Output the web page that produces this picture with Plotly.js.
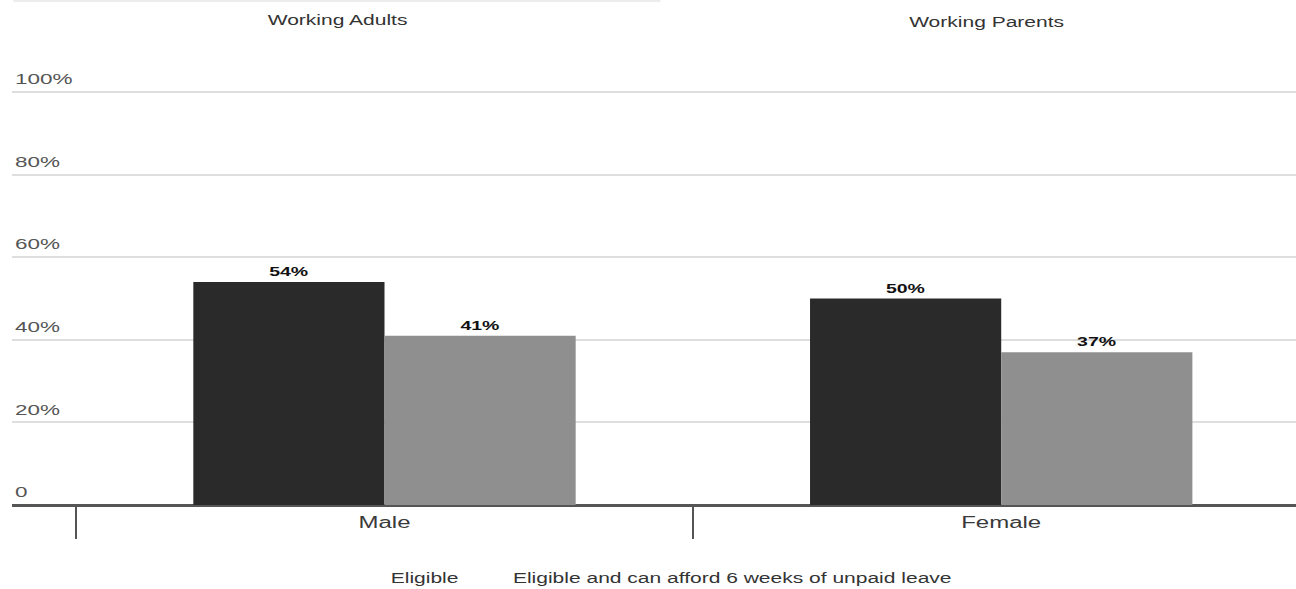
<!DOCTYPE html>
<html>
<head>
<meta charset="utf-8">
<script src="https://cdn.plot.ly/plotly-3.0.1.min.js"></script>
<style>html,body{margin:0;padding:0;background:#fff;}#chart{width:1296px;height:589px;}</style>
</head>
<body>
<div id="chart"></div>
<script>
const categories = ["Male", "Female"];
const seriesNames = ["Eligible", "Eligible and can afford 6 weeks of unpaid leave"];
const eligible = [54, 50];
const canAfford = [41, 37];
const yTickVals = [0, 20, 40, 60, 80, 100];
const yTickText = ["0", "20%", "40%", "60%", "80%", "100%"];
const tabs = ["Working Adults", "Working Parents"];

const FONT = "Liberation Sans, Arial, sans-serif";
const STRETCH = 1.5;

const traces = [
  {type: "bar", name: seriesNames[0], x: categories, y: eligible,
   text: eligible.map(v => v + "%"), textposition: "outside", cliponaxis: false,
   textfont: {family: FONT, size: 13, color: "#111", weight: "bold"},
   marker: {color: "#2a2a2a"}, showlegend: false, hoverinfo: "skip"},
  {type: "bar", name: seriesNames[1], x: categories, y: canAfford,
   text: canAfford.map(v => v + "%"), textposition: "outside", cliponaxis: false,
   textfont: {family: FONT, size: 13, color: "#111", weight: "bold"},
   marker: {color: "#8f8f8f"}, showlegend: false, hoverinfo: "skip"}
];

const layout = {
  width: 1296, height: 589,
  margin: {l: 12, r: 0, t: 59, b: 84},
  paper_bgcolor: "#fff", plot_bgcolor: "#fff",
  barmode: "group", bargap: 0.38, bargroupgap: 0,
  font: {family: FONT, color: "#444"},
  xaxis: {
    type: "category", range: [-0.604, 1.478],
    tickson: "boundaries", ticks: "outside", ticklen: 33, tickwidth: 2, tickcolor: "#555",
    ticklabelstandoff: 6,
    tickfont: {family: FONT, size: 16, color: "#3a3a3a"},
    showgrid: false, showline: false, zeroline: false
  },
  yaxis: {
    range: [0, 108], tickvals: yTickVals, ticktext: yTickText,
    ticklabelposition: "inside", ticklabelshift: -13, ticklabeloverflow: "allow",
    tickfont: {family: FONT, size: 15, color: "#555"},
    showgrid: true, gridcolor: "#dedede", gridwidth: 2,
    zeroline: true, zerolinecolor: "#555", zerolinewidth: 3,
    showline: false, ticks: ""
  },
  shapes: [
    {type: "line", xref: "paper", yref: "paper", x0: 0.001, x1: 0.505, y0: 1.13, y1: 1.13,
     line: {color: "#ececec", width: 2}}
  ],
  annotations: [
    {text: tabs[0], xref: "paper", yref: "paper", x: 0.2535, y: 1.087, showarrow: false,
     xanchor: "center", yanchor: "middle", font: {family: FONT, size: 14, color: "#333"}},
    {text: tabs[1], xref: "paper", yref: "paper", x: 0.759, y: 1.083, showarrow: false,
     xanchor: "center", yanchor: "middle", font: {family: FONT, size: 14, color: "#333"}},
    {text: seriesNames[0], xref: "paper", yref: "paper", x: 0.321, y: -0.164, showarrow: false,
     xanchor: "center", yanchor: "middle", font: {family: FONT, size: 14, color: "#333"}},
    {text: seriesNames[1], xref: "paper", yref: "paper", x: 0.561, y: -0.164, showarrow: false,
     xanchor: "center", yanchor: "middle", font: {family: FONT, size: 14, color: "#333"}}
  ]
};

Plotly.newPlot("chart", traces, layout, {displayModeBar: false, staticPlot: true}).then(function () {
  document.querySelectorAll("#chart svg text").forEach(function (t) {
    const w = t.getComputedTextLength();
    if (w > 0) {
      t.setAttribute("textLength", (w * STRETCH).toFixed(1));
      t.setAttribute("lengthAdjust", "spacingAndGlyphs");
    }
  });
});
</script>
</body>
</html>
